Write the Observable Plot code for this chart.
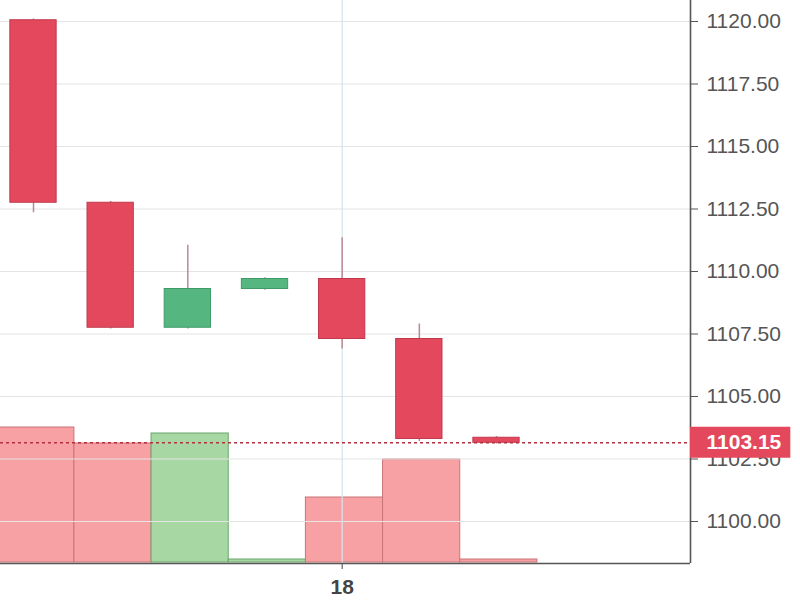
<!DOCTYPE html>
<html>
<head>
<meta charset="utf-8">
<script src="https://cdn.jsdelivr.net/npm/d3@7"></script>
<script src="https://cdn.jsdelivr.net/npm/@observablehq/plot@0.6"></script>
<style>
  html, body { margin: 0; padding: 0; background: #fff; }
  #wrap { position: relative; width: 800px; height: 600px; overflow: hidden; }
  #wrap svg { position: absolute; left: 0; top: 0; }
</style>
</head>
<body>
<div id="wrap"></div>
<script>
// ---- data ----
const slots  = [0, 1, 2, 3, 4, 5, 6];
const opens  = [1120.05, 1112.75, 1107.75, 1109.30, 1109.70, 1107.30, 1103.35];
const highs  = [1120.10, 1112.80, 1111.05, 1109.75, 1111.35, 1107.90, 1103.40];
const lows   = [1112.35, 1107.70, 1107.70, 1109.25, 1106.90, 1103.20, 1103.10];
const closes = [1112.75, 1107.75, 1109.30, 1109.70, 1107.30, 1103.30, 1103.15];
const volumes = [1350, 1190, 1290, 30, 650, 1030, 30];
const lastPrice = 1103.15;
const yTicks = [1100, 1102.5, 1105, 1107.5, 1110, 1112.5, 1115, 1117.5, 1120];
const xTicks = [4];
const xTickLabels = ["18"];

const candles = slots.map((s, k) => ({
  i: s, open: opens[k], high: highs[k], low: lows[k], close: closes[k],
  vol: volumes[k], up: closes[k] >= opens[k]
}));

// ---- layout / style ----
const W = 800, H = 600;
const xDomain = [-0.4276, 8.514];
const yDomain = [1098.32, 1120.84];
const font = "Arial, 'Liberation Sans', sans-serif";
const RED = "#e4485d", RED_EDGE = "#c03a4e";
const GREEN = "#56b680", GREEN_EDGE = "#3f9a68";
const VRED = "#f8a1a4", VRED_EDGE = "#c97479";
const VGREEN = "#a7d7a2", VGREEN_EDGE = "#6aa66c";

const wrap = document.getElementById("wrap");

// volume layer (behind)
const vol = Plot.plot({
  width: W, height: H,
  marginLeft: 0, marginRight: 110, marginTop: 0, marginBottom: 38,
  style: { background: "transparent", fontFamily: font },
  x: { type: "linear", domain: xDomain, axis: null, label: null },
  y: { domain: [0, 5620], axis: null, label: null },
  marks: [
    Plot.rectY(candles, {
      x1: d => d.i - 0.47, x2: d => d.i + 0.53, y: "vol",
      fill: d => d.up ? VGREEN : VRED,
      stroke: d => d.up ? VGREEN_EDGE : VRED_EDGE,
      strokeWidth: 1
    })
  ]
});
wrap.appendChild(vol);

// price layer (front)
const labelHalf = 0.62;
const price = Plot.plot({
  width: W, height: H,
  marginLeft: 0, marginRight: 110, marginTop: 0, marginBottom: 37,
  style: { background: "transparent", fontFamily: font, fontSize: "21px", color: "#555" },
  x: { type: "linear", domain: xDomain, axis: null, label: null },
  y: { domain: yDomain, axis: null, label: null },
  marks: [
    Plot.ruleY(yTicks, { stroke: "#e4e4e4", strokeWidth: 1.2 }),
    Plot.ruleX(xTicks, { stroke: "#d6e4ec", strokeWidth: 1.2 }),
    Plot.ruleX(candles, { x: "i", y1: "low", y2: "high", stroke: "#b98992", strokeWidth: 1.5 }),
    Plot.rect(candles, {
      x1: d => d.i - 0.3, x2: d => d.i + 0.3,
      y1: "open", y2: "close",
      fill: d => d.up ? GREEN : RED,
      stroke: d => d.up ? GREEN_EDGE : RED_EDGE,
      strokeWidth: 1
    }),
    Plot.ruleY([lastPrice], { stroke: "#b5303f", strokeWidth: 1.5, strokeDasharray: "3,3" }),
    // axis lines
    Plot.ruleX([xDomain[1]], { stroke: "#555", strokeWidth: 1.6 }),
    Plot.ruleY([yDomain[0]], { stroke: "#555", strokeWidth: 1.6 }),
    Plot.axisY(yTicks, {
      anchor: "right", tickSize: 7, tickPadding: 9, label: null,
      tickFormat: d3.format(".2f"), fill: "#555", stroke: "#555",
      fontSize: 21
    }),
    Plot.axisX(xTicks, {
      anchor: "bottom", tickSize: 6, tickPadding: 10, label: null,
      tickFormat: (d, k) => xTickLabels[k], fill: "#444", stroke: "#444",
      fontSize: 21, fontWeight: "bold"
    }),
    // last price label
    Plot.rect([lastPrice], {
      x1: xDomain[1], x2: xDomain[1] + 1.3,
      y1: d => d - labelHalf, y2: d => d + labelHalf,
      fill: RED
    }),
    Plot.text([lastPrice], {
      x: xDomain[1], y: d => d, text: d => d3.format(".2f")(d),
      textAnchor: "start", dx: 16, fill: "#fff", fontWeight: "bold", fontSize: 21
    })
  ]
});
wrap.appendChild(price);
</script>
</body>
</html>
